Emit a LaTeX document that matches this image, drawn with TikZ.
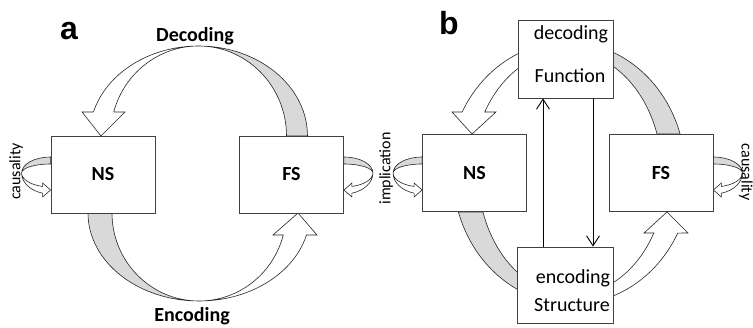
\documentclass[tikz,border=0pt]{standalone}
\usepackage{fontspec}
\setmainfont{Carlito}
\newfontfamily\panelfont{Liberation Sans}
\usetikzlibrary{arrows.meta,calc,backgrounds}
\tikzset{
	box/.style={draw=black!75, fill=white, line width=0.8pt, minimum width=104pt, minimum height=77pt, inner sep=0pt, font=\bfseries\fontsize{20}{24}\selectfont},
	band/.style={draw=black!85, fill=black!15, line width=0.6pt},
	ribbon/.style={draw=black!85, fill=white, line width=0.6pt},
	word/.style={font=\fontsize{20}{24}\selectfont, inner sep=0pt, anchor=base},
	sidetext/.style={font=\fontsize{16}{19}\selectfont, inner sep=0pt},
	panel/.style={font=\panelfont\bfseries\fontsize{32}{36}\selectfont, inner sep=0pt, anchor=base},
	vline/.style={draw=black, line width=0.9pt, -{Straight Barb[length=10pt,width=13pt]}},
	loopback/.pic={
			\filldraw[band] (0,16) arc[start angle=90,end angle=180,x radius=29,y radius=16] arc[start angle=180,end angle=90,x radius=29,y radius=9] -- cycle;
			\filldraw[ribbon] (-29,0) arc[start angle=180,end angle=254,x radius=29,y radius=21] -- (-8,-24) -- (0,-17) -- (-8,-10) -- (254:29 and 14) arc[start angle=254,end angle=180,x radius=29,y radius=14] -- cycle;
		}
}

\begin{document}
\begin{tikzpicture}[x=1pt,y=1pt]
	\useasboundingbox (0,0) rectangle (753,327);
	% panel a
	\node[panel] (taga) at (69,287) {a};
	\node[box] (NSa) at (103,152.5) {NS};
	\node[box] (FSa) at (291.5,152.5) {FS};
	\node[word, font=\bfseries\fontsize{20}{24}\selectfont] (declab) at (195,285) {Decoding};
	\node[word, font=\bfseries\fontsize{20}{24}\selectfont] (enclab) at (192,5.5) {Encoding};
	\node[sidetext, rotate=90] (causa) at (16,155.5) {causality};
	% panel b
	\node[panel] (tagb) at (449,292) {b};
	\node[box] (NSb) at (474.5,154) {NS};
	\node[box] (FSb) at (661,154) {FS};
	\node[box, minimum width=95pt, minimum height=78pt] (Fun) at (565.5,268) {};
	\node[box, minimum width=96pt, minimum height=76pt] (Str) at (565,42) {};
	\node[word] (fundec) at ([xshift=5.5,yshift=19]Fun.center) {decoding};
	\node[word] (funtxt) at ([xshift=4.5,yshift=-24]Fun.center) {Function};
	\node[word] (strenc) at ([xshift=8,yshift=2]Str.center) {encoding};
	\node[word] (strtxt) at ([xshift=7,yshift=-26]Str.center) {Structure};
	\node[sidetext, rotate=90] (implb) at (386,158.5) {implication};
	\node[sidetext, rotate=-90] (causb) at (746,155) {causality};
	\draw[vline] ([xshift=-22]Str.north) -- ([xshift=-22.5]Fun.south);
	\draw[vline] ([xshift=27.5]Fun.south) -- ([xshift=28]Str.north);

	\begin{scope}[on background layer]
		\coordinate (deca) at (198.5,191);
		\coordinate (enca) at (199,114);
		\coordinate (decb) at (567,154);
		\coordinate (encb) at (572,154);
		% decoding, panel a
		\filldraw[band] (deca) ++(109,0) arc[start angle=0,end angle=90,x radius=109,y radius=90] arc[start angle=90,end angle=0,x radius=88,y radius=90] -- cycle;
		\filldraw[ribbon] (deca) ++(0,90) arc[start angle=90,end angle=164.5,x radius=109,y radius=90] -- (82,215) -- (101,191) -- (125,215) -- ($(deca)+(164.5:88 and 90)$) arc[start angle=164.5,end angle=90,x radius=88,y radius=90] -- cycle;
		% encoding, panel a
		\filldraw[band] (enca) ++(-111,0) arc[start angle=180,end angle=270,x radius=111,y radius=88] arc[start angle=270,end angle=180,x radius=87,y radius=88] -- cycle;
		\filldraw[ribbon] (enca) ++(0,-88) arc[start angle=270,end angle=345.5,x radius=111,y radius=88] -- (317,92) -- (298,114) -- (273,92) -- ($(enca)+(345.5:87 and 88)$) arc[start angle=345.5,end angle=270,x radius=87,y radius=88] -- cycle;
		% decoding, panel b
		\filldraw[band] (decb) ++(17.3:118.5 and 131) arc[start angle=17.3,end angle=90,x radius=118.5,y radius=131] -- ($(decb)+(0,122)$) arc[start angle=90,end angle=18.64,x radius=95,y radius=122] -- cycle;
		\filldraw[ribbon] (decb) ++(0,131) arc[start angle=90,end angle=152.25,x radius=118.5,y radius=131] -- (452,215) -- (472,193) -- (496,215) -- ($(decb)+(150:95 and 122)$) arc[start angle=150,end angle=90,x radius=95,y radius=122] -- cycle;
		% encoding, panel b
		\filldraw[band] (encb) ++(197.3:119 and 131) arc[start angle=197.3,end angle=270,x radius=119,y radius=131] -- ($(encb)+(0,-122)$) arc[start angle=270,end angle=198.64,x radius=94,y radius=122] -- cycle;
		\filldraw[ribbon] (encb) ++(0,-131) arc[start angle=270,end angle=332.7,x radius=119,y radius=131] -- (688,94) -- (667,115) -- (644,94) -- ($(encb)+(330.54:94 and 122)$) arc[start angle=330.54,end angle=270,x radius=94,y radius=122] -- cycle;
		% self loops
		\pic at ([yshift=1.5]NSa.west) {loopback};
		\pic[xscale=-1] at ([yshift=1.5]FSa.east) {loopback};
		\pic at (NSb.west) {loopback};
		\pic[xscale=-1] at (FSb.east) {loopback};
	\end{scope}
\end{tikzpicture}
\end{document}
